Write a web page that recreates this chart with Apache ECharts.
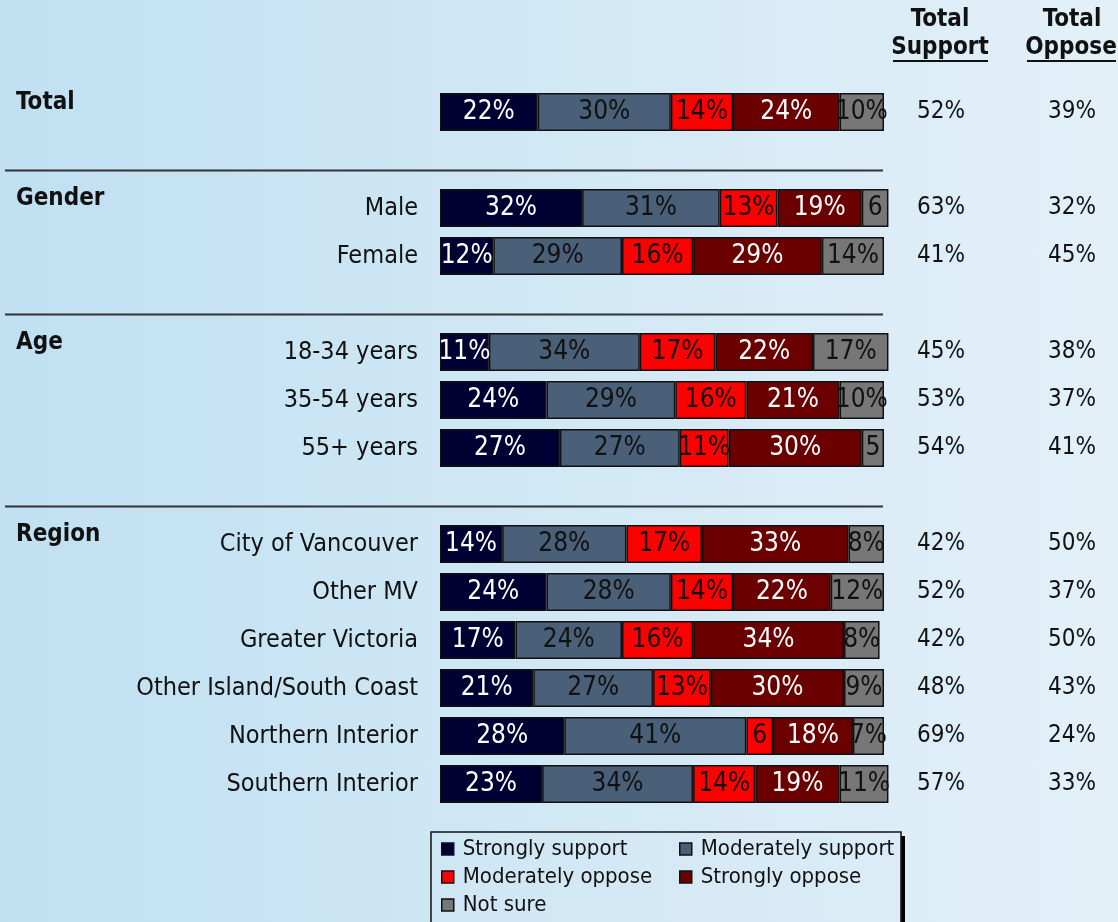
<!DOCTYPE html>
<html>
<head>
<meta charset="utf-8">
<script src="https://cdn.jsdelivr.net/npm/echarts@6/dist/echarts.min.js"></script>
<style>
  html, body { margin: 0; padding: 0; }
  #chart {
    width: 1118px;
    height: 922px;
    background: linear-gradient(to right, #c0e0f2, #e3f0f8);
  }
</style>
</head>
<body>
<div id="chart"></div>
<script>
// rows of the chart; '' = Total row or a blank gap between groups
const rows = ['', '', 'Male', 'Female', '', '18-34 years', '35-54 years', '55+ years', '',
  'City of Vancouver', 'Other MV', 'Greater Victoria', 'Other Island/South Coast', 'Northern Interior', 'Southern Interior']

const strongSupport = [22, null, 32, 12, null, 11, 24, 27, null, 14, 24, 17, 21, 28, 23]
const modSupport    = [30, null, 31, 29, null, 34, 29, 27, null, 28, 28, 24, 27, 41, 34]
const modOppose     = [14, null, 13, 16, null, 17, 16, 11, null, 17, 14, 16, 13, 6, 14]
const strongOppose  = [24, null, 19, 29, null, 22, 21, 30, null, 33, 22, 34, 30, 18, 19]
const notSure       = [10, null, 6, 14, null, 17, 10, 5, null, 8, 12, 8, 9, 7, 11]

const totalSupport = ['52%', '', '63%', '41%', '', '45%', '53%', '54%', '', '42%', '52%', '42%', '48%', '69%', '57%']
const totalOppose  = ['39%', '', '32%', '45%', '', '38%', '37%', '41%', '', '50%', '37%', '50%', '43%', '24%', '33%']

const groupNames = ['Total', 'Gender', 'Age', 'Region']
const groupRows = [0, 2, 5, 9]
const gapRows = [1, 4, 8]

const FONT = "'DejaVu Sans Condensed', 'DejaVu Sans', sans-serif"

const chart = echarts.init(document.getElementById('chart'))

function barSeries(name, data, color, textColor) {
  return {
    name: name,
    type: 'bar',
    stack: 'all',
    data: data,
    barWidth: 38,
    clip: false,
    itemStyle: { color: color, borderColor: '#111', borderWidth: 1.5 },
    label: {
      show: true,
      position: 'inside',
      color: textColor,
      fontSize: 26,
      fontFamily: FONT,
      formatter: p => (p.value < 7 ? String(p.value) : p.value + '%'),
    },
  }
}

function valueAxis(labels, margin) {
  return {
    type: 'category',
    data: rows,
    inverse: true,
    position: 'right',
    axisLine: { show: false },
    axisTick: { show: false },
    axisLabel: {
      margin: margin,
      align: 'center',
      fontSize: 24,
      fontFamily: FONT,
      color: '#111',
      formatter: (v, i) => labels[i],
    },
  }
}

const legendText = { fontSize: 22, lineHeight: 22, fontFamily: FONT, color: '#111', padding: [0, 0, 0, 4] }
const legendItem = { borderColor: '#111', borderWidth: 1.5 }

chart.setOption({
  backgroundColor: 'transparent',
  animation: false,
  grid: { left: 440, width: 444, top: 88, height: 720 },
  xAxis: { type: 'value', min: 0, max: 100, show: false },
  yAxis: [
    {
      type: 'category',
      data: rows,
      inverse: true,
      axisLine: { show: false },
      axisTick: { show: false },
      axisLabel: { margin: 22, fontSize: 25, fontFamily: FONT, color: '#111' },
    },
    valueAxis(totalSupport, 57),
    valueAxis(totalOppose, 188),
  ],
  legend: [
    {
      orient: 'vertical', left: 441, top: 838, height: 84, padding: 0, itemGap: 6,
      icon: 'rect', itemWidth: 12, itemHeight: 12, itemStyle: legendItem,
      textStyle: legendText,
      data: ['Strongly support', 'Moderately oppose', 'Not sure'],
    },
    {
      orient: 'vertical', left: 679, top: 838, height: 84, padding: 0, itemGap: 6,
      icon: 'rect', itemWidth: 12, itemHeight: 12, itemStyle: legendItem,
      textStyle: legendText,
      data: ['Moderately support', 'Strongly oppose'],
    },
  ],
  series: [
    barSeries('Strongly support', strongSupport, '#000033', '#fff'),
    barSeries('Moderately support', modSupport, '#4a5f78', '#111'),
    barSeries('Moderately oppose', modOppose, '#ff0000', '#111'),
    barSeries('Strongly oppose', strongOppose, '#6a0000', '#fff'),
    barSeries('Not sure', notSure, '#777777', '#111'),
  ],
})

// headers, separators, legend box
const graphics = [
  { type: 'rect', z: -2, shape: { x: 435, y: 836, width: 470, height: 100 }, style: { fill: '#000' } },
  {
    type: 'rect', z: -1, shape: { x: 431, y: 832, width: 470, height: 100 },
    style: {
      fill: new echarts.graphic.LinearGradient(0, 0, 1, 0, [
        { offset: 0, color: '#cfe6f4' }, { offset: 1, color: '#dbecf6' },
      ]),
      stroke: '#111', lineWidth: 1.5,
    },
  },
]

const headFont = 'bold 24px ' + FONT
;[['Total', 940, 20], ['Support', 940, 48], ['Total', 1072, 20], ['Oppose', 1071, 48]].forEach(([t, x, y]) => {
  graphics.push({ type: 'text', style: { text: t, x: x, y: y, font: headFont, fill: '#111', align: 'center', verticalAlign: 'middle' } })
})
graphics.push({ type: 'line', shape: { x1: 893, y1: 61, x2: 988, y2: 61 }, style: { stroke: '#111', lineWidth: 2 } })
graphics.push({ type: 'line', shape: { x1: 1027, y1: 61, x2: 1116, y2: 61 }, style: { stroke: '#111', lineWidth: 2 } })

groupNames.forEach((name, i) => {
  const y = chart.convertToPixel({ yAxisIndex: 0 }, groupRows[i]) - 9
  graphics.push({ type: 'text', style: { text: name, x: 16, y: y, font: headFont, fill: '#111', verticalAlign: 'middle' } })
})
gapRows.forEach(r => {
  const y = Math.round(chart.convertToPixel({ yAxisIndex: 0 }, r) + 10) + 0.5
  graphics.push({ type: 'line', shape: { x1: 5, y1: y, x2: 883, y2: y }, style: { stroke: '#333', lineWidth: 2 } })
})

chart.setOption({ graphic: graphics })
</script>
</body>
</html>
